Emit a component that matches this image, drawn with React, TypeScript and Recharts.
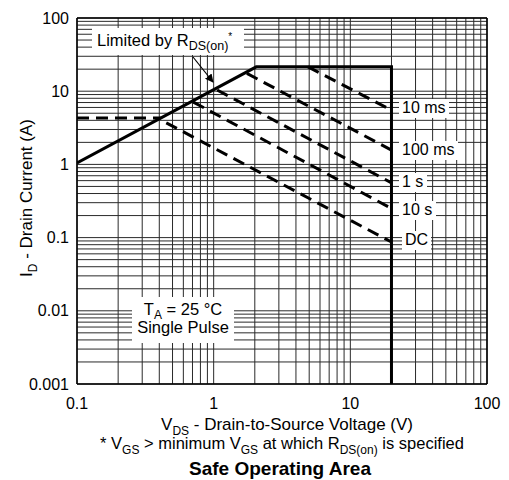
import React from 'react';
import { LineChart, Line, XAxis, YAxis, CartesianGrid, ReferenceLine } from 'recharts';

// log grid: decades x 1..9
const V_DECADES = [0.1, 1, 10];
const I_DECADES = [0.001, 0.01, 0.1, 1, 10];
const STEPS = [1, 2, 3, 4, 5, 6, 7, 8, 9];
const V_LABELS = [0.1, 1, 10, 100];
const I_LABELS = [0.001, 0.01, 0.1, 1, 10, 100];

const V_TICKS = [...V_DECADES.flatMap(d => STEPS.map(s => +(d * s).toPrecision(3))), 100];
const I_TICKS = [...I_DECADES.flatMap(d => STEPS.map(s => +(d * s).toPrecision(3))), 100];

// SOA boundary (RDS(on) limit, current limit, voltage limit)
const LIMIT_V = [0.1, 2.05, 20, 20];
const LIMIT_I = [1.05, 21.5, 21.5, 0.001];

// dashed shelf on the left
const SHELF_V = [0.1, 0.41];
const SHELF_I = [4.3, 4.3];

// pulse-width lines
const MS10_V = [4.9, 20];
const MS10_I = [21.5, 5.5];
const MS100_V = [1.75, 20];
const MS100_I = [17.5, 1.57];
const S1_V = [1.06, 20];
const S1_I = [10.4, 0.56];
const S10_V = [0.71, 20];
const S10_I = [7.1, 0.25];
const DC_V = [0.45, 20];
const DC_I = [3.7, 0.087];

const pts = (v: number[], i: number[]) => v.map((x, k) => ({ v: x, i: i[k] }));

const FONT = '"Liberation Sans", Arial, sans-serif';
const DASH = '12 7';

const fmt = (labels: number[]) => (val: number) => (labels.includes(val) ? String(val) : '');

const Tag = ({ x, y, w, label }: { x: number; y: number; w: number; label: string }) => (
  <g>
    <rect x={x - 3} y={y - 14} width={w} height={19} fill="#fff" />
    <text x={x} y={y} fontSize={16}>{label}</text>
  </g>
);

export default function App() {
  return (
    <div style={{ position: 'absolute', left: 0, top: 0, width: 509, height: 480, background: '#fff', fontFamily: FONT }}>
      <LineChart width={509} height={480} margin={{ top: 18, right: 22, bottom: 66, left: 5 }}>
        <CartesianGrid stroke="#2a2a2a" strokeWidth={1} />
        <XAxis
          type="number"
          dataKey="v"
          scale="log"
          domain={[0.1, 100]}
          allowDataOverflow
          ticks={V_TICKS}
          interval={0}
          tickFormatter={fmt(V_LABELS)}
          tickLine={false}
          tickMargin={8}
          height={30}
          axisLine={{ stroke: '#000', strokeWidth: 1.5 }}
          tick={{ fill: '#000', fontSize: 16, fontFamily: FONT }}
        />
        <YAxis
          type="number"
          dataKey="i"
          scale="log"
          domain={[0.001, 100]}
          allowDataOverflow
          ticks={I_TICKS}
          interval={0}
          tickFormatter={fmt(I_LABELS)}
          tickLine={false}
          width={72}
          axisLine={{ stroke: '#000', strokeWidth: 1.5 }}
          tick={{ fill: '#000', fontSize: 16, fontFamily: FONT }}
        />
        <ReferenceLine x={100} stroke="#000" strokeWidth={1.5} />
        <ReferenceLine y={100} stroke="#000" strokeWidth={1.5} />
        <Line data={pts(LIMIT_V, LIMIT_I)} dataKey="i" stroke="#000" strokeWidth={3} dot={false} isAnimationActive={false} />
        <Line data={pts(SHELF_V, SHELF_I)} dataKey="i" stroke="#000" strokeWidth={3} strokeDasharray={DASH} dot={false} isAnimationActive={false} />
        <Line data={pts(MS10_V, MS10_I)} dataKey="i" stroke="#000" strokeWidth={3} strokeDasharray={DASH} dot={false} isAnimationActive={false} />
        <Line data={pts(MS100_V, MS100_I)} dataKey="i" stroke="#000" strokeWidth={3} strokeDasharray={DASH} dot={false} isAnimationActive={false} />
        <Line data={pts(S1_V, S1_I)} dataKey="i" stroke="#000" strokeWidth={3} strokeDasharray={DASH} dot={false} isAnimationActive={false} />
        <Line data={pts(S10_V, S10_I)} dataKey="i" stroke="#000" strokeWidth={3} strokeDasharray={DASH} dot={false} isAnimationActive={false} />
        <Line data={pts(DC_V, DC_I)} dataKey="i" stroke="#000" strokeWidth={3} strokeDasharray={DASH} dot={false} isAnimationActive={false} />
      </LineChart>

      <svg width={509} height={480} style={{ position: 'absolute', left: 0, top: 0, pointerEvents: 'none', fontFamily: FONT }}>
        <defs>
          <marker id="arr" viewBox="0 0 10 10" refX="9" refY="5" markerWidth="7" markerHeight="7" orient="auto">
            <path d="M0,0 L10,5 L0,10 z" fill="#000" />
          </marker>
        </defs>

        {/* axis titles */}
        <text transform="translate(32,198) rotate(-90)" textAnchor="middle" fontSize={17} fill="#000">
          I<tspan dy={5} fontSize={12}>D</tspan><tspan dy={-5}> - Drain Current (A)</tspan>
        </text>
        <text x={287} y={430} textAnchor="middle" fontSize={17} fill="#000">
          V<tspan dy={5} fontSize={12}>DS</tspan><tspan dy={-5}> - Drain-to-Source Voltage (V)</tspan>
        </text>
        <text x={282} y={449} textAnchor="middle" fontSize={16.5} fill="#000">
          * V<tspan dy={5} fontSize={12}>GS</tspan><tspan dy={-5}> &gt; minimum V</tspan><tspan dy={5} fontSize={12}>GS</tspan>
          <tspan dy={-5}> at which R</tspan><tspan dy={5} fontSize={12}>DS(on)</tspan><tspan dy={-5}> is specified</tspan>
        </text>
        <text x={280} y={475} textAnchor="middle" fontSize={19} fontWeight="bold" fill="#000">Safe Operating Area</text>

        {/* RDS(on) callout */}
        <rect x={92} y={28} width={152} height={27} fill="#fff" />
        <text x={97} y={46} fontSize={16.5} fill="#000">
          Limited by R<tspan dy={4} fontSize={12.5}>DS(on)</tspan><tspan dy={-10} fontSize={10}>*</tspan>
        </text>
        <line x1={193} y1={57} x2={213} y2={82} stroke="#000" strokeWidth={1.2} markerEnd="url(#arr)" />

        {/* conditions */}
        <rect x={132} y={297} width={102} height={46} fill="#fff" />
        <text x={183} y={315} textAnchor="middle" fontSize={16.5} fill="#000">
          T<tspan dy={4} fontSize={12}>A</tspan><tspan dy={-4}> = 25 °C</tspan>
        </text>
        <text x={183} y={333} textAnchor="middle" fontSize={16.5} fill="#000">Single Pulse</text>

        {/* pulse labels */}
        <Tag x={402} y={113} w={50} label="10 ms" />
        <Tag x={402} y={155} w={59} label="100 ms" />
        <Tag x={402} y={187} w={28} label="1 s" />
        <Tag x={402} y={215} w={37} label="10 s" />
        <Tag x={405} y={245} w={29} label="DC" />
      </svg>
    </div>
  );
}
